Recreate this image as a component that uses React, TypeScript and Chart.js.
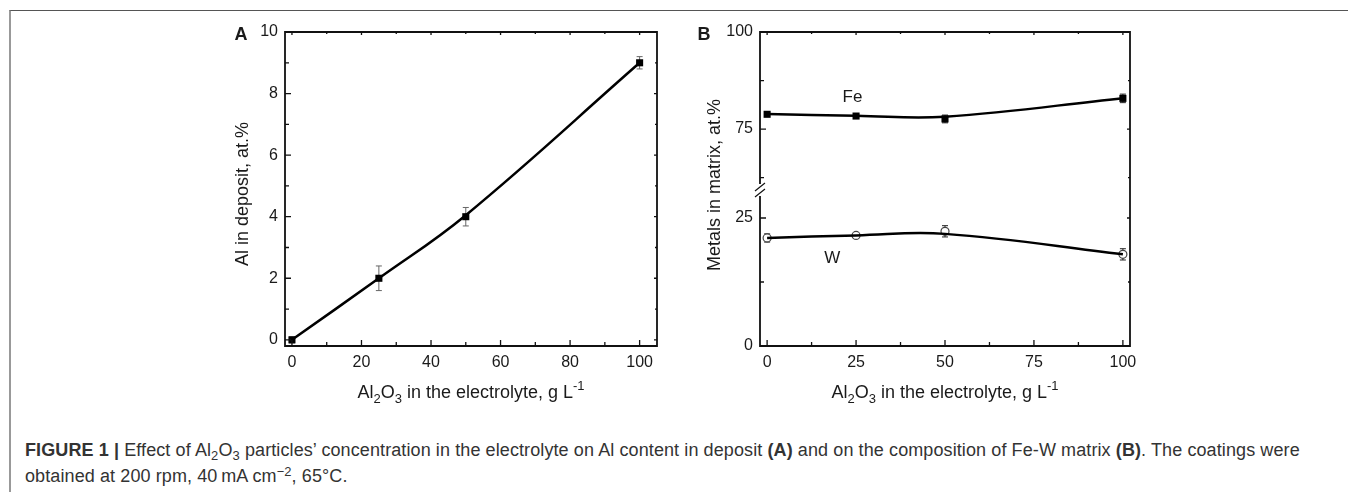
import React, { useEffect, useRef } from "react";
import { Chart, registerables } from "chart.js";
Chart.register(...registerables);

// ---------- data ----------
const aConc = [0, 25, 50, 100];
const aAl = [0, 2, 4, 9];
const aAlErr = [0.1, 0.4, 0.3, 0.2];
const aAlFit = [0, 2, 4.05, 9];

const bConc = [0, 25, 50, 100];
const bFe = [78.8, 78.35, 77.6, 82.9];
const bFeErr = [0.5, 0.4, 1.0, 1.1];
const bFeFit = [78.85, 78.45, 78.2, 82.95];
const bW = [21.1, 21.6, 22.4, 17.9];
const bWErr = [0.8, 0.4, 1.1, 1.1];
const bWFit = [21.1, 21.6, 21.9, 17.9];

const aXTicks = [0, 20, 40, 60, 80, 100];
const aXMinor = [10, 30, 50, 70, 90];
const aYTicks = [0, 2, 4, 6, 8, 10];
const aYMinor = [1, 3, 5, 7, 9];
const bXTicks = [0, 25, 50, 75, 100];
const bXMinor = [12.5, 37.5, 62.5, 87.5];
const bYTopTicks = [75, 100];
const bYTopMinor = [62.5, 87.5];
const bYBotTicks = [0, 25];
const bYBotMinor = [12.5];

const FONT = '"Liberation Sans", Arial, Helvetica, sans-serif';

type Part = { t: string; k?: "sub" | "sup" };
const xTitleParts: Part[] = [
  { t: "Al" }, { t: "2", k: "sub" }, { t: "O" }, { t: "3", k: "sub" },
  { t: " in the electrolyte, g L" }, { t: "-1", k: "sup" },
];

function drawParts(ctx: any, parts: Part[], cx: number, baseline: number, size: number) {
  const small = Math.round(size * 0.72);
  let w = 0;
  for (const p of parts) {
    ctx.font = `${p.k ? small : size}px ${FONT}`;
    w += ctx.measureText(p.t).width;
  }
  let x = cx - w / 2;
  ctx.textAlign = "left";
  ctx.textBaseline = "alphabetic";
  for (const p of parts) {
    ctx.font = `${p.k ? small : size}px ${FONT}`;
    const dy = p.k === "sub" ? size * 0.3 : p.k === "sup" ? -size * 0.42 : 0;
    ctx.fillText(p.t, x, baseline + dy);
    x += ctx.measureText(p.t).width;
  }
}

type Decor = {
  id: string;
  xTicks: number[];
  xMinor: number[];
  yAxes: { id: string; ticks: number[]; minor: number[] }[];
  errors: { axis: string; xs: number[]; vals: number[]; errs: number[]; color: string }[];
  letter: string;
  letterDx: number;
  yTitle: string;
  yTitleDx: number;
  yTitleDy: number;
  notes: { text: string; x: number; y: number; axis: string }[];
  breakAt?: string;
};

function line(ctx: any, x1: number, y1: number, x2: number, y2: number) {
  ctx.moveTo(x1, y1);
  ctx.lineTo(x2, y2);
}

function makeDecor(d: Decor) {
  return {
    id: d.id,
    beforeDatasetsDraw(chart: any) {
      const ctx = chart.ctx;
      const xs = chart.scales.x;
      ctx.save();
      for (const e of d.errors) {
        const ys = chart.scales[e.axis];
        ctx.strokeStyle = e.color;
        ctx.lineWidth = 1;
        ctx.beginPath();
        e.xs.forEach((xv, i) => {
          const px = xs.getPixelForValue(xv);
          const y1 = ys.getPixelForValue(e.vals[i] - e.errs[i]);
          const y2 = ys.getPixelForValue(e.vals[i] + e.errs[i]);
          line(ctx, px, y1, px, y2);
          line(ctx, px - 3, y1, px + 3, y1);
          line(ctx, px - 3, y2, px + 3, y2);
        });
        ctx.stroke();
      }
      ctx.restore();
    },
    afterDatasetsDraw(chart: any) {
      const ctx = chart.ctx;
      const { left, right, top, bottom } = chart.chartArea;
      const xs = chart.scales.x;
      ctx.save();
      ctx.strokeStyle = "#111";
      ctx.lineWidth = 1.8;
      ctx.lineCap = "square";
      ctx.beginPath();
      line(ctx, left, top, right, top);
      line(ctx, right, top, right, bottom);
      line(ctx, left, bottom, right, bottom);
      let by = 0;
      if (d.breakAt) {
        by = chart.scales[d.breakAt].bottom;
        line(ctx, left, top, left, by - 7);
        line(ctx, left, by + 7, left, bottom);
      } else {
        line(ctx, left, top, left, bottom);
      }
      ctx.stroke();
      ctx.lineCap = "butt";
      ctx.lineWidth = 1.3;
      ctx.beginPath();
      for (const v of d.xTicks) {
        const px = xs.getPixelForValue(v);
        line(ctx, px, bottom, px, bottom - 6);
        line(ctx, px, top, px, top + 3);
      }
      for (const v of d.xMinor) {
        const px = xs.getPixelForValue(v);
        line(ctx, px, bottom, px, bottom - 4);
        line(ctx, px, top, px, top + 2);
      }
      for (const ax of d.yAxes) {
        const s = chart.scales[ax.id];
        for (const v of ax.ticks) {
          const py = s.getPixelForValue(v);
          line(ctx, left, py, left + 6, py);
          line(ctx, right, py, right - 3, py);
        }
        for (const v of ax.minor) {
          const py = s.getPixelForValue(v);
          line(ctx, left, py, left + 4, py);
          line(ctx, right, py, right - 2, py);
        }
      }
      ctx.stroke();
      if (d.breakAt) {
        ctx.lineWidth = 1.2;
        ctx.beginPath();
        line(ctx, left - 5, by + 1, left + 5, by - 7);
        line(ctx, left - 5, by + 7, left + 5, by - 1);
        ctx.stroke();
      }
      // texts
      ctx.fillStyle = "#1a1a1a";
      ctx.font = `bold 18px ${FONT}`;
      ctx.textAlign = "center";
      ctx.textBaseline = "middle";
      ctx.fillText(d.letter, left - d.letterDx, top + 3);

      ctx.font = `17px ${FONT}`;
      for (const n of d.notes) {
        ctx.fillText(n.text, xs.getPixelForValue(n.x), chart.scales[n.axis].getPixelForValue(n.y));
      }

      ctx.save();
      ctx.translate(left - d.yTitleDx, (top + bottom) / 2 + d.yTitleDy);
      ctx.rotate(-Math.PI / 2);
      ctx.font = `18px ${FONT}`;
      ctx.textAlign = "center";
      ctx.textBaseline = "alphabetic";
      ctx.fillText(d.yTitle, 0, 0);
      ctx.restore();

      drawParts(ctx, xTitleParts, (left + right) / 2, bottom + 52, 18);
      ctx.restore();
    },
  };
}

const tickFont = { family: FONT, size: 16 };
const setTicks = (vals: number[]) => (s: any) => {
  s.ticks = vals.map((v) => ({ value: v }));
};

function configA(): any {
  return {
    type: "line",
    data: {
      datasets: [
        {
          data: aConc.map((x, i) => ({ x, y: aAlFit[i] })),
          borderColor: "#000",
          borderWidth: 2.5,
          pointRadius: 0,
          tension: 0.4,
          fill: false,
        },
        {
          data: aConc.map((x, i) => ({ x, y: aAl[i] })),
          showLine: false,
          pointStyle: "rect",
          pointRadius: 5,
          backgroundColor: "#000",
          borderColor: "#000",
          borderWidth: 0,
        },
      ],
    },
    options: {
      responsive: false,
      animation: false,
      events: [],
      layout: { padding: { top: 32, right: 23, left: 0, bottom: 0 } },
      plugins: { legend: { display: false }, tooltip: { enabled: false } },
      scales: {
        x: {
          type: "linear", min: -2, max: 105,
          grid: { display: false, drawTicks: false }, border: { display: false },
          afterBuildTicks: setTicks(aXTicks),
          afterFit: (s: any) => { s.height = 74; },
          ticks: { font: tickFont, color: "#1a1a1a", padding: 7, maxRotation: 0 },
        },
        y: {
          type: "linear", min: -0.2, max: 10,
          grid: { display: false, drawTicks: false }, border: { display: false },
          afterBuildTicks: setTicks(aYTicks),
          afterFit: (s: any) => { s.width = 85; },
          ticks: { font: tickFont, color: "#1a1a1a", padding: 7 },
        },
      },
    },
    plugins: [
      makeDecor({
        id: "decorA",
        xTicks: aXTicks, xMinor: aXMinor,
        yAxes: [{ id: "y", ticks: aYTicks, minor: aYMinor }],
        errors: [{ axis: "y", xs: aConc, vals: aAl, errs: aAlErr, color: "#666" }],
        letter: "A", letterDx: 44,
        yTitle: "Al in deposit, at.%", yTitleDx: 37, yTitleDy: 5,
        notes: [],
      }),
    ],
  };
}

function configB(): any {
  return {
    type: "line",
    data: {
      datasets: [
        {
          yAxisID: "yTop",
          data: bConc.map((x, i) => ({ x, y: bFeFit[i] })),
          borderColor: "#000", borderWidth: 2.5, pointRadius: 0, tension: 0.4, fill: false,
        },
        {
          yAxisID: "yBot",
          data: bConc.map((x, i) => ({ x, y: bWFit[i] })),
          borderColor: "#000", borderWidth: 2.5, pointRadius: 0, tension: 0.4, fill: false,
        },
        {
          yAxisID: "yTop",
          data: bConc.map((x, i) => ({ x, y: bFe[i] })),
          showLine: false, pointStyle: "rect", pointRadius: 5,
          backgroundColor: "#000", borderColor: "#000", borderWidth: 0,
        },
        {
          yAxisID: "yBot",
          data: bConc.map((x, i) => ({ x, y: bW[i] })),
          showLine: false, pointStyle: "circle", pointRadius: 4,
          backgroundColor: "#fff", borderColor: "#444", borderWidth: 1.2,
        },
      ],
    },
    options: {
      responsive: false,
      animation: false,
      events: [],
      layout: { padding: { top: 32, right: 30, left: 0, bottom: 0 } },
      plugins: { legend: { display: false }, tooltip: { enabled: false } },
      scales: {
        x: {
          type: "linear", min: -2, max: 102,
          grid: { display: false, drawTicks: false }, border: { display: false },
          afterBuildTicks: setTicks(bXTicks),
          afterFit: (s: any) => { s.height = 74; },
          ticks: { font: tickFont, color: "#1a1a1a", padding: 7, maxRotation: 0 },
        },
        yBot: {
          type: "linear", position: "left", stack: "b", stackWeight: 156,
          min: 0, max: 30.47,
          grid: { display: false, drawTicks: false }, border: { display: false },
          afterBuildTicks: setTicks(bYBotTicks),
          afterFit: (s: any) => { s.width = 80; },
          ticks: { font: tickFont, color: "#1a1a1a", padding: 7 },
        },
        yTop: {
          type: "linear", position: "left", stack: "b", stackWeight: 158,
          min: 59.3, max: 100,
          grid: { display: false, drawTicks: false }, border: { display: false },
          afterBuildTicks: setTicks(bYTopTicks),
          afterFit: (s: any) => { s.width = 80; },
          ticks: { font: tickFont, color: "#1a1a1a", padding: 7 },
        },
      },
    },
    plugins: [
      makeDecor({
        id: "decorB",
        xTicks: bXTicks, xMinor: bXMinor,
        yAxes: [
          { id: "yTop", ticks: bYTopTicks, minor: bYTopMinor },
          { id: "yBot", ticks: bYBotTicks, minor: bYBotMinor },
        ],
        errors: [
          { axis: "yTop", xs: bConc, vals: bFe, errs: bFeErr, color: "#222" },
          { axis: "yBot", xs: bConc, vals: bW, errs: bWErr, color: "#222" },
        ],
        letter: "B", letterDx: 56,
        yTitle: "Metals in matrix, at.%", yTitleDx: 40, yTitleDy: -4,
        notes: [
          { text: "Fe", x: 24, y: 83.2, axis: "yTop" },
          { text: "W", x: 18.3, y: 17.2, axis: "yBot" },
        ],
        breakAt: "yTop",
      }),
    ],
  };
}

const subStyle: any = { fontSize: "0.72em", verticalAlign: "-0.3em", lineHeight: 0 };
const supStyle: any = { fontSize: "0.72em", verticalAlign: "0.45em", lineHeight: 0 };

export default function App() {
  const refA = useRef<HTMLCanvasElement | null>(null);
  const refB = useRef<HTMLCanvasElement | null>(null);
  useEffect(() => {
    const ca = new Chart(refA.current as any, configA());
    const cb = new Chart(refB.current as any, configB());
    return () => {
      ca.destroy();
      cb.destroy();
    };
  }, []);
  return (
    <div style={{ position: "absolute", left: 0, top: 0, width: 1348, height: 492, overflow: "hidden", background: "#fff" }}>
      <div style={{ position: "absolute", left: 9, top: 10, width: 1339, height: 482, borderTop: "1px solid #555", borderLeft: "2px solid #999", boxSizing: "border-box" }} />
      <canvas ref={refA} width={480} height={420} style={{ position: "absolute", left: 200, top: 0, width: 480, height: 420 }} />
      <canvas ref={refB} width={480} height={420} style={{ position: "absolute", left: 680, top: 0, width: 480, height: 420 }} />
      <div style={{ position: "absolute", left: 25, top: 437, font: `18px ${FONT}`, letterSpacing: "0.1px", color: "#333", lineHeight: "26px", whiteSpace: "nowrap" }}>
        <b>FIGURE 1 |</b> Effect of Al<sub style={subStyle}>2</sub>O<sub style={subStyle}>3</sub> particles’ concentration in the electrolyte on Al content in deposit <b>(A)</b> and on the composition of Fe-W matrix <b>(B)</b>. The coatings were
        <br />
        obtained at 200 rpm, 40&#8201;mA cm<sup style={supStyle}>−2</sup>, 65°C.
      </div>
    </div>
  );
}
